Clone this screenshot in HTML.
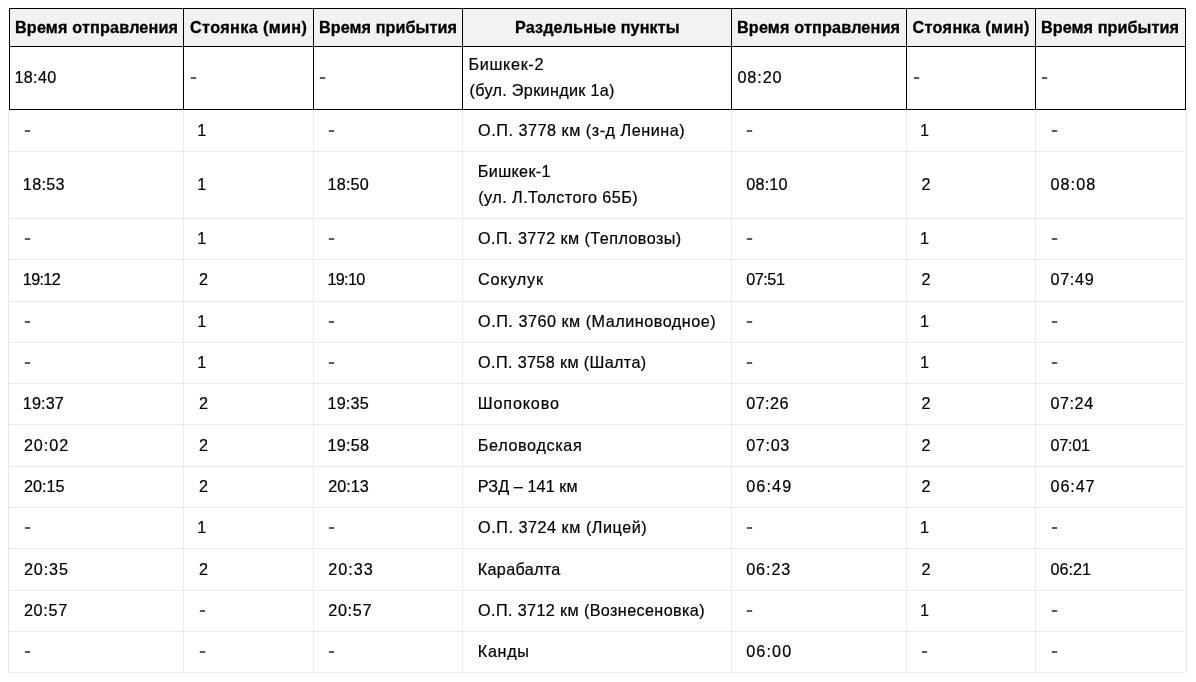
<!DOCTYPE html>
<html lang="ru"><head><meta charset="utf-8"><title>Расписание</title>
<style>
html,body{margin:0;padding:0;background:#fff}
body{width:1196px;height:682px;position:relative;overflow:hidden;font-family:"Liberation Sans",sans-serif;color:#000}
i{position:absolute;display:block}
span{position:absolute;white-space:nowrap;transform-origin:0 50%}
.t{font-size:16.2px;line-height:26px;height:26px;-webkit-text-stroke:0.2px #000}
.h{font-size:16.2px;font-weight:bold;line-height:37px;height:37px;-webkit-text-stroke:0.3px #000}
.d{font-weight:bold;transform:scaleX(1.3);color:#5c5c5c;-webkit-text-stroke:0}
</style></head><body>
<i style="left:183px;top:110px;width:1px;height:563px;background:#ebebeb"></i>
<i style="left:313px;top:110px;width:1px;height:563px;background:#ebebeb"></i>
<i style="left:462px;top:110px;width:1px;height:563px;background:#ebebeb"></i>
<i style="left:731px;top:110px;width:1px;height:563px;background:#ebebeb"></i>
<i style="left:906px;top:110px;width:1px;height:563px;background:#ebebeb"></i>
<i style="left:1035px;top:110px;width:1px;height:563px;background:#ebebeb"></i>
<i style="left:9px;top:151px;width:1176px;height:1px;background:#ebebeb"></i>
<i style="left:9px;top:218px;width:1176px;height:1px;background:#ebebeb"></i>
<i style="left:9px;top:259px;width:1176px;height:1px;background:#ebebeb"></i>
<i style="left:9px;top:301px;width:1176px;height:1px;background:#ebebeb"></i>
<i style="left:9px;top:342px;width:1176px;height:1px;background:#ebebeb"></i>
<i style="left:9px;top:383px;width:1176px;height:1px;background:#ebebeb"></i>
<i style="left:9px;top:424px;width:1176px;height:1px;background:#ebebeb"></i>
<i style="left:9px;top:466px;width:1176px;height:1px;background:#ebebeb"></i>
<i style="left:9px;top:507px;width:1176px;height:1px;background:#ebebeb"></i>
<i style="left:9px;top:548px;width:1176px;height:1px;background:#ebebeb"></i>
<i style="left:9px;top:590px;width:1176px;height:1px;background:#ebebeb"></i>
<i style="left:9px;top:631px;width:1176px;height:1px;background:#ebebeb"></i>
<i style="left:9px;top:672px;width:1176px;height:1px;background:#ebebeb"></i>
<i style="left:8px;top:110px;width:1px;height:563px;background:#e5e7eb"></i>
<i style="left:1186px;top:110px;width:1px;height:563px;background:#e5e7eb"></i>
<i style="left:9px;top:8px;width:1177px;height:38px;background:#f2f2f2"></i>
<i style="left:9px;top:8px;width:1px;height:102px;background:#000"></i>
<i style="left:183px;top:8px;width:1px;height:102px;background:#000"></i>
<i style="left:313px;top:8px;width:1px;height:102px;background:#000"></i>
<i style="left:462px;top:8px;width:1px;height:102px;background:#000"></i>
<i style="left:731px;top:8px;width:1px;height:102px;background:#000"></i>
<i style="left:906px;top:8px;width:1px;height:102px;background:#000"></i>
<i style="left:1035px;top:8px;width:1px;height:102px;background:#000"></i>
<i style="left:1185px;top:8px;width:1px;height:102px;background:#000"></i>
<i style="left:9px;top:8px;width:1177px;height:1px;background:#000"></i>
<i style="left:9px;top:46px;width:1177px;height:1px;background:#000"></i>
<i style="left:9px;top:109px;width:1177px;height:1px;background:#000"></i>
<span class="h" style="left:15px;top:9px;letter-spacing:0.169px;">Время отправления</span>
<span class="h" style="left:190px;top:9px;letter-spacing:0.375px;">Стоянка (мин)</span>
<span class="h" style="left:319px;top:9px;letter-spacing:0.069px;">Время прибытия</span>
<span class="h" style="left:515px;top:9px;letter-spacing:0.113px;">Раздельные пункты</span>
<span class="h" style="left:737px;top:9px;letter-spacing:0.169px;">Время отправления</span>
<span class="h" style="left:912.4px;top:9px;letter-spacing:0.375px;">Стоянка (мин)</span>
<span class="h" style="left:1041px;top:9px;letter-spacing:0.069px;">Время прибытия</span>
<span class="t" style="left:14.47px;top:64.0px;letter-spacing:0.311px;">18:40</span>
<span class="t d" style="left:189.76px;top:63.0px;">-</span>
<span class="t d" style="left:318.76px;top:63.0px;">-</span>
<span class="t" style="left:468.5px;top:51.0px;letter-spacing:0.643px;">Бишкек-2</span>
<span class="t" style="left:469.5px;top:77.0px;letter-spacing:0.314px;">(бул. Эркиндик 1а)</span>
<span class="t" style="left:737.41px;top:64.0px;letter-spacing:0.911px;">08:20</span>
<span class="t d" style="left:912.73px;top:63.0px;">-</span>
<span class="t d" style="left:1040.76px;top:63.0px;">-</span>
<span class="t d" style="left:23.83px;top:115.5px;">-</span>
<span class="t" style="left:197.3px;top:116.5px;">1</span>
<span class="t d" style="left:327.76px;top:115.5px;">-</span>
<span class="t" style="left:478.11px;top:116.5px;letter-spacing:0.519px;">О.П. 3778 км (з-д Ленина)</span>
<span class="t d" style="left:746.23px;top:115.5px;">-</span>
<span class="t" style="left:919.95px;top:116.5px;">1</span>
<span class="t d" style="left:1050.83px;top:115.5px;">-</span>
<span class="t" style="left:22.85px;top:171.0px;letter-spacing:0.297px;">18:53</span>
<span class="t" style="left:197.3px;top:171.0px;">1</span>
<span class="t" style="left:327.47px;top:171.0px;letter-spacing:0.216px;">18:50</span>
<span class="t" style="left:477.8px;top:158.0px;letter-spacing:0.337px;">Бишкек-1</span>
<span class="t" style="left:478.22px;top:184.0px;letter-spacing:0.457px;">(ул. Л.Толстого 65Б)</span>
<span class="t" style="left:746.2px;top:171.0px;letter-spacing:0.225px;">08:10</span>
<span class="t" style="left:921.5px;top:171.0px;">2</span>
<span class="t" style="left:1050.5px;top:171.0px;letter-spacing:1.048px;">08:08</span>
<span class="t d" style="left:23.83px;top:224.0px;">-</span>
<span class="t" style="left:197.3px;top:225.0px;">1</span>
<span class="t d" style="left:327.76px;top:224.0px;">-</span>
<span class="t" style="left:478.11px;top:225.0px;letter-spacing:0.424px;">О.П. 3772 км (Тепловозы)</span>
<span class="t d" style="left:746.23px;top:224.0px;">-</span>
<span class="t" style="left:919.95px;top:225.0px;">1</span>
<span class="t d" style="left:1050.83px;top:224.0px;">-</span>
<span class="t" style="left:22.85px;top:265.5px;letter-spacing:-0.675px;">19:12</span>
<span class="t" style="left:199.0px;top:265.5px;">2</span>
<span class="t" style="left:327.47px;top:265.5px;letter-spacing:-0.675px;">19:10</span>
<span class="t" style="left:478.04px;top:265.5px;letter-spacing:0.774px;">Сокулук</span>
<span class="t" style="left:746.2px;top:265.5px;letter-spacing:-0.45px;">07:51</span>
<span class="t" style="left:921.5px;top:265.5px;">2</span>
<span class="t" style="left:1050.5px;top:265.5px;letter-spacing:0.675px;">07:49</span>
<span class="t d" style="left:23.83px;top:307.0px;">-</span>
<span class="t" style="left:197.3px;top:308.0px;">1</span>
<span class="t d" style="left:327.76px;top:307.0px;">-</span>
<span class="t" style="left:478.11px;top:308.0px;letter-spacing:0.51px;">О.П. 3760 км (Малиноводное)</span>
<span class="t d" style="left:746.23px;top:307.0px;">-</span>
<span class="t" style="left:919.95px;top:308.0px;">1</span>
<span class="t d" style="left:1050.83px;top:307.0px;">-</span>
<span class="t d" style="left:23.83px;top:348.0px;">-</span>
<span class="t" style="left:197.3px;top:349.0px;">1</span>
<span class="t d" style="left:327.76px;top:348.0px;">-</span>
<span class="t" style="left:478.11px;top:349.0px;letter-spacing:0.36px;">О.П. 3758 км (Шалта)</span>
<span class="t d" style="left:746.23px;top:348.0px;">-</span>
<span class="t" style="left:919.95px;top:349.0px;">1</span>
<span class="t d" style="left:1050.83px;top:348.0px;">-</span>
<span class="t" style="left:22.85px;top:390.0px;letter-spacing:0.124px;">19:37</span>
<span class="t" style="left:199.0px;top:390.0px;">2</span>
<span class="t" style="left:327.47px;top:390.0px;letter-spacing:0.18px;">19:35</span>
<span class="t" style="left:477.8px;top:390.0px;letter-spacing:0.838px;">Шопоково</span>
<span class="t" style="left:746.2px;top:390.0px;letter-spacing:0.45px;">07:26</span>
<span class="t" style="left:921.5px;top:390.0px;">2</span>
<span class="t" style="left:1050.5px;top:390.0px;letter-spacing:0.54px;">07:24</span>
<span class="t" style="left:23.91px;top:431.5px;letter-spacing:0.938px;">20:02</span>
<span class="t" style="left:199.0px;top:431.5px;">2</span>
<span class="t" style="left:327.47px;top:431.5px;letter-spacing:0.259px;">19:58</span>
<span class="t" style="left:477.8px;top:431.5px;letter-spacing:0.637px;">Беловодская</span>
<span class="t" style="left:746.2px;top:431.5px;letter-spacing:0.666px;">07:03</span>
<span class="t" style="left:921.5px;top:431.5px;">2</span>
<span class="t" style="left:1050.5px;top:431.5px;letter-spacing:-0.225px;">07:01</span>
<span class="t" style="left:23.91px;top:473.0px;">20:15</span>
<span class="t" style="left:199.0px;top:473.0px;">2</span>
<span class="t" style="left:328.22px;top:473.0px;">20:13</span>
<span class="t" style="left:477.8px;top:473.0px;letter-spacing:0.082px;">РЗД – 141 км</span>
<span class="t" style="left:746.2px;top:473.0px;letter-spacing:1.125px;">06:49</span>
<span class="t" style="left:921.5px;top:473.0px;">2</span>
<span class="t" style="left:1050.5px;top:473.0px;letter-spacing:0.9px;">06:47</span>
<span class="t d" style="left:23.83px;top:513.0px;">-</span>
<span class="t" style="left:197.3px;top:514.0px;">1</span>
<span class="t d" style="left:327.76px;top:513.0px;">-</span>
<span class="t" style="left:478.11px;top:514.0px;letter-spacing:0.526px;">О.П. 3724 км (Лицей)</span>
<span class="t d" style="left:746.23px;top:513.0px;">-</span>
<span class="t" style="left:919.95px;top:514.0px;">1</span>
<span class="t d" style="left:1050.83px;top:513.0px;">-</span>
<span class="t" style="left:23.91px;top:555.5px;letter-spacing:0.868px;">20:35</span>
<span class="t" style="left:199.0px;top:555.5px;">2</span>
<span class="t" style="left:328.22px;top:555.5px;letter-spacing:0.992px;">20:33</span>
<span class="t" style="left:477.8px;top:555.5px;letter-spacing:0.314px;">Карабалта</span>
<span class="t" style="left:746.2px;top:555.5px;letter-spacing:0.9px;">06:23</span>
<span class="t" style="left:921.5px;top:555.5px;">2</span>
<span class="t" style="left:1050.5px;top:555.5px;">06:21</span>
<span class="t" style="left:23.91px;top:597.0px;letter-spacing:0.7px;">20:57</span>
<span class="t d" style="left:198.83px;top:596.0px;">-</span>
<span class="t" style="left:328.22px;top:597.0px;letter-spacing:0.675px;">20:57</span>
<span class="t" style="left:478.11px;top:597.0px;letter-spacing:0.374px;">О.П. 3712 км (Вознесеновка)</span>
<span class="t d" style="left:746.23px;top:596.0px;">-</span>
<span class="t" style="left:919.95px;top:597.0px;">1</span>
<span class="t d" style="left:1050.83px;top:596.0px;">-</span>
<span class="t d" style="left:23.83px;top:637.0px;">-</span>
<span class="t d" style="left:198.83px;top:637.0px;">-</span>
<span class="t d" style="left:327.76px;top:637.0px;">-</span>
<span class="t" style="left:477.8px;top:638.0px;letter-spacing:0.675px;">Канды</span>
<span class="t" style="left:746.2px;top:638.0px;letter-spacing:1.125px;">06:00</span>
<span class="t d" style="left:920.76px;top:637.0px;">-</span>
<span class="t d" style="left:1050.83px;top:637.0px;">-</span>
</body></html>
